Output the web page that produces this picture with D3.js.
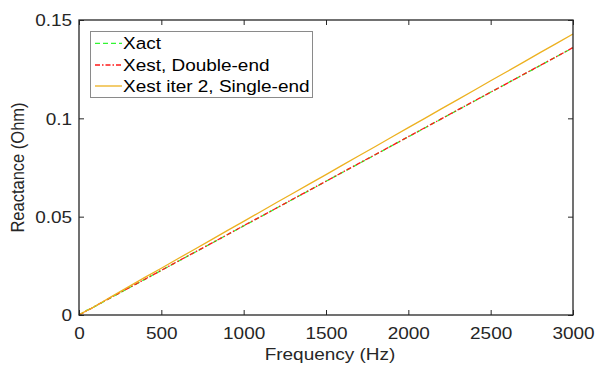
<!DOCTYPE html>
<html><head><meta charset="utf-8">
<script src="https://cdn.jsdelivr.net/npm/d3@7"></script>
<style>body{margin:0;background:#fff}svg{display:block}</style>
</head><body><svg id="c" width="602" height="367"></svg>
<script>
const freq = [0,25,50,75,100,200,300,400,500,600,700,800,900,1000,1100,1200,1300,1400,1500,1600,1700,1800,1900,2000,2100,2200,2300,2400,2500,2600,2700,2800,2900,3000];
const xact = [0,0.0013,0.0025,0.0033,0.0045,0.0091,0.0136,0.0181,0.0227,0.0272,0.0317,0.0362,0.0408,0.0453,0.0498,0.0544,0.0589,0.0634,0.0680,0.0725,0.0770,0.0815,0.0861,0.0906,0.0951,0.0997,0.1042,0.1087,0.1133,0.1178,0.1223,0.1268,0.1314,0.1359];
const xestDouble = [0,0.0011,0.0023,0.0034,0.0046,0.0092,0.0137,0.0182,0.0227,0.0273,0.0318,0.0363,0.0408,0.0454,0.0499,0.0544,0.0590,0.0635,0.0680,0.0726,0.0771,0.0816,0.0861,0.0907,0.0952,0.0997,0.1043,0.1088,0.1133,0.1178,0.1224,0.1269,0.1314,0.1360];
const xestSingle = [0,0.0012,0.0024,0.0034,0.0046,0.0095,0.0143,0.0191,0.0238,0.0286,0.0333,0.0381,0.0429,0.0476,0.0524,0.0572,0.0619,0.0667,0.0714,0.0762,0.0810,0.0857,0.0905,0.0953,0.1000,0.1048,0.1095,0.1143,0.1191,0.1238,0.1286,0.1334,0.1381,0.1429];
const xTicks = [0,500,1000,1500,2000,2500,3000];
const yTicks = [0,0.05,0.1,0.15];
const yTickLabels = ["0","0.05","0.1","0.15"];
const seriesNames = ["Xact","Xest, Double-end","Xest iter 2, Single-end"];

const svg = d3.select("#c");
const L=79, R=573, T=20, B=315;
const x = d3.scaleLinear().domain([0,3000]).range([L,R]);
const y = d3.scaleLinear().domain([0,0.15]).range([B,T]);
const ink = "#262626";
const font = "'Liberation Sans', Arial, sans-serif";
const SX = 1.15, FS = 16.5;

const series = [
  {name:seriesNames[0], vals:xact, color:"#33f533", dash:"5,3"},
  {name:seriesNames[1], vals:xestDouble, color:"#ff1a1a", dash:"5,2,1.5,2"},
  {name:seriesNames[2], vals:xestSingle, color:"#EDB120", dash:null}
];
const line = d3.line().x((d,i)=>x(freq[i])).y(d=>y(d));
const gp = svg.append("g");
series.forEach(s=>{
  gp.append("path").datum(s.vals).attr("d",line).attr("fill","none")
    .attr("stroke",s.color).attr("stroke-width",1.3)
    .attr("stroke-dasharray",s.dash);
});

function styleAxis(g){
  g.selectAll("path").remove();
  g.selectAll("line").attr("stroke",ink).attr("stroke-width",1);
}
svg.append("g").attr("transform",`translate(0,${B})`)
  .call(d3.axisBottom(x).tickValues(xTicks).tickSize(-5).tickFormat(d3.format("d")))
  .call(styleAxis)
  .call(g=>g.selectAll("text").attr("fill",ink).attr("font-family",font).attr("font-size",FS)
     .attr("transform",`scale(${SX},1)`).attr("y",24).attr("dy",0));
svg.append("g").attr("transform",`translate(0,${T})`)
  .call(d3.axisTop(x).tickValues(xTicks).tickSize(-5).tickFormat(""))
  .call(styleAxis);
svg.append("g").attr("transform",`translate(${L},0)`)
  .call(d3.axisLeft(y).tickValues(yTicks).tickSize(-5).tickFormat((d,i)=>yTickLabels[i]))
  .call(styleAxis)
  .call(g=>g.selectAll("text").attr("fill",ink).attr("font-family",font).attr("font-size",FS)
     .attr("transform",`scale(${SX},1)`).attr("x",-6).attr("dy","0.35em"));
svg.append("g").attr("transform",`translate(${R},0)`)
  .call(d3.axisRight(y).tickValues(yTicks).tickSize(-5).tickFormat(""))
  .call(styleAxis);

svg.append("rect").attr("x",L).attr("y",T).attr("width",R-L).attr("height",B-T)
  .attr("fill","none").attr("stroke",ink).attr("stroke-width",1.3);

svg.append("text").attr("transform",`translate(${(L+R)/2+4},360) scale(${SX},1)`)
  .attr("text-anchor","middle").attr("font-family",font).attr("font-size",FS).attr("fill",ink)
  .text("Frequency (Hz)");
svg.append("text").attr("transform",`translate(24,${(T+B)/2}) rotate(-90) scale(1,${SX})`)
  .attr("text-anchor","middle").attr("font-family",font).attr("font-size",FS).attr("fill",ink)
  .text("Reactance (Ohm)");

const lg = svg.append("g");
lg.append("rect").attr("x",90.5).attr("y",31.5).attr("width",222).attr("height",66)
  .attr("fill","#fff").attr("stroke","#8a8a8a").attr("stroke-width",1);
const baselines = [49.3,71,92];
series.forEach((s,i)=>{
  const ly = baselines[i]-6;
  lg.append("line").attr("x1",95).attr("x2",122).attr("y1",ly).attr("y2",ly)
    .attr("stroke",s.color).attr("stroke-width",1.3).attr("stroke-dasharray",s.dash);
  lg.append("text").attr("transform",`translate(123,${baselines[i]}) scale(${SX},1)`)
    .attr("font-family",font).attr("font-size",FS).attr("fill","#000").text(s.name);
});
</script></body></html>
